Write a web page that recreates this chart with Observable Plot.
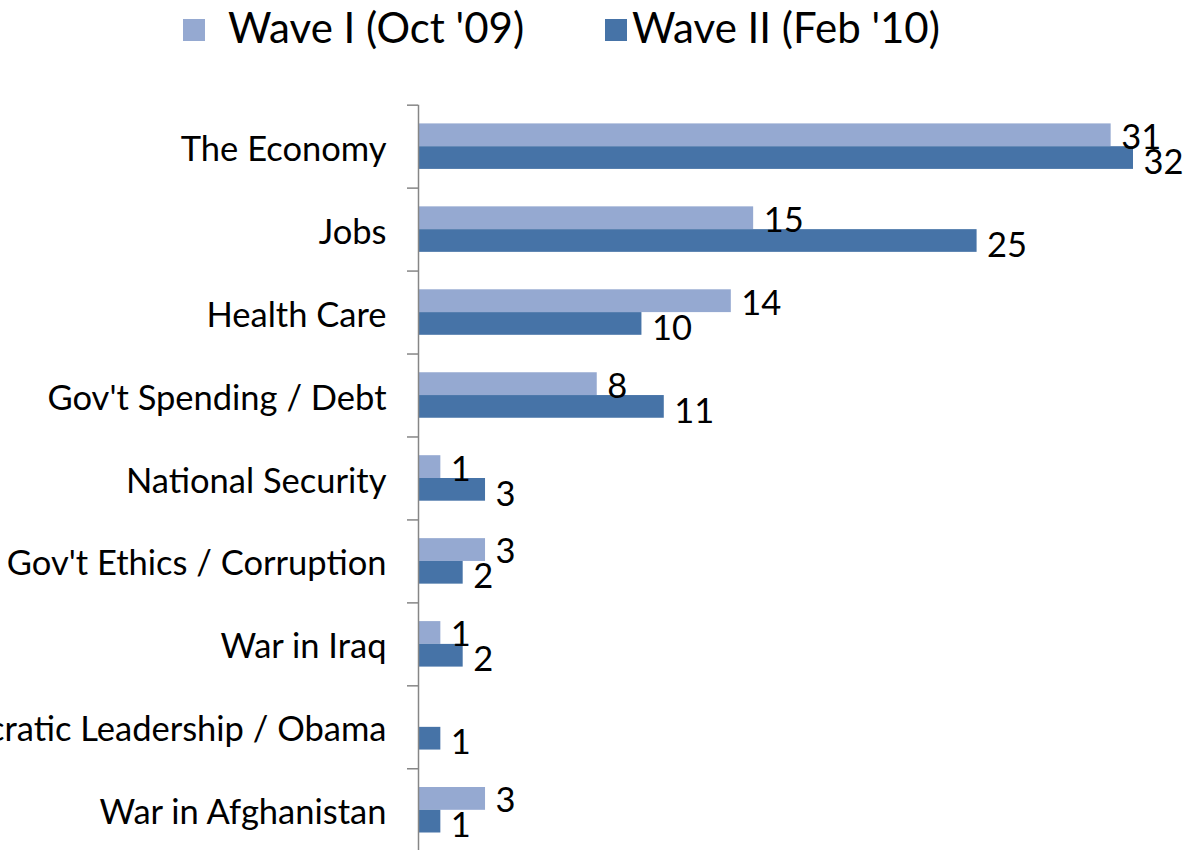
<!DOCTYPE html>
<html>
<head>
<meta charset="utf-8">
<script src="https://cdn.jsdelivr.net/npm/d3@7"></script>
<script src="https://cdn.jsdelivr.net/npm/@observablehq/plot@0.6"></script>
<style>
  html, body { margin: 0; padding: 0; background: #fff; overflow: hidden; }
  #legend { position: relative; width: 1193px; height: 80px; font-family: Lato, sans-serif; }
  #chart svg { display: block; }
  .sw { position: absolute; width: 22px; height: 22px; top: 19px; }
  .lt { position: absolute; top: 2px; font-size: 42px; line-height: 50px; color: #000; white-space: nowrap; }
</style>
</head>
<body>
<div id="legend"></div>
<div id="chart"></div>
<script>
const categories = [
  "The Economy",
  "Jobs",
  "Health Care",
  "Gov't Spending / Debt",
  "National Security",
  "Gov't Ethics / Corruption",
  "War in Iraq",
  "Democratic Leadership / Obama",
  "War in Afghanistan"
];
const seriesNames = ["Wave I (Oct '09)", "Wave II (Feb '10)"];
const waveI = [31, 15, 14, 8, 1, 3, 1, null, 3];
const waveII = [32, 25, 10, 11, 3, 2, 2, 1, 1];
const colors = ["#95A9D1", "#4673A7"];

const rowsI = categories.map((c, i) => ({category: c, series: seriesNames[0], value: waveI[i]})).filter(d => d.value != null);
const rowsII = categories.map((c, i) => ({category: c, series: seriesNames[1], value: waveII[i]})).filter(d => d.value != null);

// legend
const legend = document.getElementById("legend");
const legendPos = [[183, 228], [605, 632]];
seriesNames.forEach((s, i) => {
  const sw = document.createElement("div");
  sw.className = "sw";
  sw.style.left = legendPos[i][0] + "px";
  sw.style.background = colors[i];
  legend.appendChild(sw);
  const t = document.createElement("div");
  t.className = "lt";
  t.style.left = legendPos[i][1] + "px";
  t.textContent = s;
  legend.appendChild(t);
});

const fs = 34.5;
const chart = Plot.plot({
  width: 1193,
  height: 770,
  marginLeft: 418,
  marginRight: 60,
  marginTop: 24.7,
  marginBottom: -1.25,
  style: {fontFamily: "Lato, sans-serif", fontSize: fs + "px", color: "#000", background: "#fff", overflow: "visible"},
  x: {domain: [0, 32], axis: null},
  y: {domain: categories, padding: 0, round: false, axis: null},
  marks: [
    Plot.barX(rowsI, {x: "value", y: "category", fill: colors[0], insetTop: 18.7, insetBottom: 41.45}),
    Plot.barX(rowsII, {x: "value", y: "category", fill: colors[1], insetTop: 41.5, insetBottom: 18.75}),
    Plot.ruleX([0], {stroke: "#868686", strokeWidth: 1.5}),
    Plot.ruleY(categories, {y: d => d, x1: 0, x2: 0, insetLeft: -11, dy: -41.5, stroke: "#868686", strokeWidth: 1.5}),
    Plot.axisY({tickSize: 0, tickPadding: 32, fontSize: fs, textAnchor: "end", label: null, dy: 3}),
    Plot.text(rowsI, {x: "value", y: "category", text: "value", dx: 10, dy: -9, textAnchor: "start", fontSize: fs, fill: "#000"}),
    Plot.text(rowsII, {x: "value", y: "category", text: "value", dx: 10, dy: 16, textAnchor: "start", fontSize: fs, fill: "#000"})
  ]
});
document.getElementById("chart").appendChild(chart);
</script>
</body>
</html>
